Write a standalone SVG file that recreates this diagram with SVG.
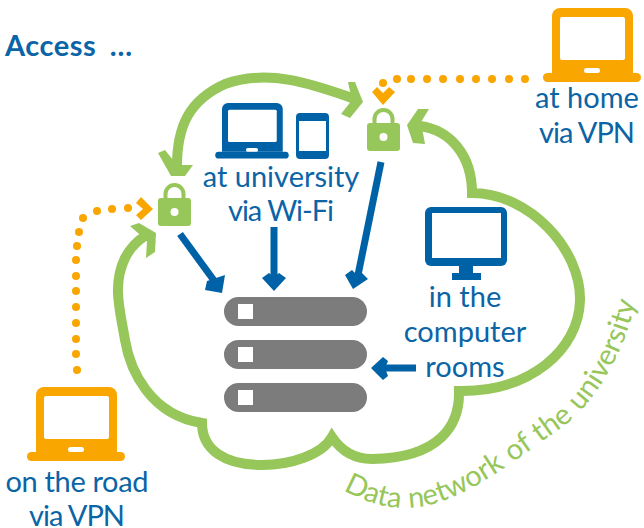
<svg xmlns="http://www.w3.org/2000/svg" width="644" height="528" viewBox="0 0 644 528">
<style>
text{font-family:Lato,"Noto Sans",sans-serif;font-size:29px;fill:#0a64a6;text-anchor:middle}
.g{fill:#97c65a}.o{fill:#f9a600}.b{fill:#0062a6}.w{fill:#fff}.s{fill:#7c7c7c}
.gl{fill:none;stroke:#97c65a;stroke-width:10;stroke-linejoin:miter;stroke-miterlimit:10}
.bl{fill:none;stroke:#0062a6;stroke-width:7}
</style>
<defs>
<g id="laptop">
<path d="M36 452V395a8 8 0 0 1 8-8H109a8 8 0 0 1 8 8V452z"/>
<rect x="27" y="452" width="98" height="9" rx="4.5"/>
<rect class="w" x="44" y="396" width="65" height="43" rx="2"/>
<rect class="w" x="68" y="447" width="16" height="5" rx="2.5"/>
</g>
<g id="lock" class="g">
<path d="M-9 -7V-11a9 9 0 0 1 18 0V-7" fill="none" stroke="#97c65a" stroke-width="4"/>
<rect x="-16.500" y="-7" width="33" height="28" rx="3"/>
<circle class="w" cx="0" cy="7" r="4"/>
</g>
<circle id="d" r="4" class="o"/>
</defs>
<rect width="644" height="528" fill="#fff"/>
<g id="connectors">
<path class="gl" d="M420 126C450 130 472 155 472 193C530 193 581 250 580 300C579 350 530 392 459 391C460 425 440 458 372 459C355 459 342 452 332 437C322 455 290 465 262 465C225 465 202 450 202 423C150 415 130 370 125 340C120 310 112 285 125 258C130 248 138 240 147 235"/>
<polygon class="g" points="407,125 418,109 429,109 421,122 425,144 413,143"/>
<polygon class="g" points="130,226 139,223 156,233 155,252 146,258 147,241"/>
<path class="gl" d="M177 166C177 125 190 100 225 84C270 68 315 85 355 99"/>
<polygon class="g" points="171,176 158,153 165,150 177,165 193,165 185,176"/>
<polygon class="g" points="363,102 350,118 341,114 352,100 348,82 355,82"/>
<line class="bl" x1="180" y1="234" x2="218" y2="286"/>
<polygon class="b" points="225,275 222,293 205,290 207,281"/>
<line class="bl" x1="274" y1="227" x2="274" y2="280"/>
<polygon class="b" points="262,278 269,273 274,277 279,273 286,278 274,291"/>
<line class="bl" x1="381" y1="162" x2="357" y2="280"/>
<polygon class="b" points="345,275 352,270 357,275 362,273 368,279 353,289"/>
<line class="bl" x1="416" y1="368" x2="385" y2="368"/>
<polygon class="b" points="371,368 383,357 388,361 385,368 388,376 383,380"/>
<g id="dots-home">
<use href="#d" x="525" y="79"/><use href="#d" x="509" y="79"/><use href="#d" x="492" y="79"/><use href="#d" x="476" y="79"/><use href="#d" x="460" y="79"/><use href="#d" x="443" y="79"/><use href="#d" x="427" y="79"/><use href="#d" x="411" y="79"/><use href="#d" x="397" y="79"/><use href="#d" x="383" y="83"/>
<polygon class="o" points="372,92 377,87 383,93 389,87 395,92 383,105"/>
</g>
<g id="dots-road">
<use href="#d" x="77" y="370"/><use href="#d" x="76" y="354"/><use href="#d" x="76" y="339"/><use href="#d" x="76" y="323"/><use href="#d" x="76" y="307"/><use href="#d" x="76" y="291"/><use href="#d" x="76" y="276"/><use href="#d" x="76" y="260"/><use href="#d" x="77" y="246"/><use href="#d" x="79" y="232"/><use href="#d" x="83" y="218"/><use href="#d" x="97" y="211"/><use href="#d" x="112" y="209"/><use href="#d" x="128" y="208"/>
<polygon class="o" points="136,203 141,197 153,209 141,220 136,215 143,209"/>
</g>
</g>
<g id="lock-left"><use href="#lock" x="174.500" y="205"/></g>
<g id="lock-right"><use href="#lock" x="383.500" y="130"/></g>
<g id="title"><text x="5" y="56" style="text-anchor:start;font-weight:700;letter-spacing:.5px;word-spacing:6px">Access …</text></g>
<g id="road"><use href="#laptop" class="o"/><text x="77" y="492" textLength="143">on the road</text><text x="77" y="526" textLength="96">via VPN</text></g>
<g id="home"><use href="#laptop" class="o" x="516" y="-379"/><text x="587" y="108">at home</text><text x="587" y="143" textLength="96">via VPN</text></g>
<g id="university">
<use href="#laptop" class="b" transform="translate(195 -187.250) scale(.75)" />
<rect class="b" x="296" y="113" width="33" height="46" rx="4"/><rect class="w" x="299" y="121" width="27" height="30"/>
<text x="281" y="187">at university</text><text x="281" y="221" textLength="106">via Wi-Fi</text>
</g>
<g id="rooms">
<rect class="b" x="425" y="207" width="82" height="59" rx="6"/><rect class="w" x="432" y="213" width="69" height="45"/>
<rect class="b" x="459" y="265" width="14" height="9"/><rect class="b" x="452" y="273" width="29" height="7"/>
<text x="465" y="307">in the</text><text x="465" y="342">computer</text><text x="465" y="377">rooms</text>
</g>
<g id="server">
<rect class="s" x="224" y="297" width="143" height="29" rx="14.500"/><rect class="w" x="238" y="304" width="15" height="15"/>
<rect class="s" x="224" y="340" width="143" height="29" rx="14.500"/><rect class="w" x="238" y="347" width="15" height="15"/>
<rect class="s" x="224" y="383" width="143" height="29" rx="14.500"/><rect class="w" x="238" y="390" width="15" height="15"/>
</g>
<g id="network-label">
<path id="arc" d="M343 490C372 506 395 510 420 507C470 498 515 460 568 423C600 395 625 350 636 300" fill="none"/>
<text style="fill:#97c65a;text-anchor:start;font-size:29px;word-spacing:1px"><textPath href="#arc">Data network  of the university</textPath></text>
</g>
</svg>
